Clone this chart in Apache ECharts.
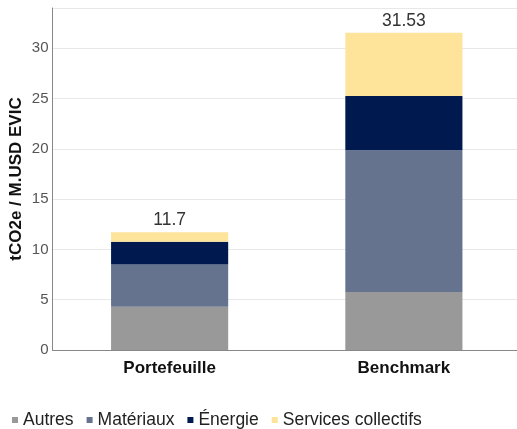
<!DOCTYPE html>
<html><head><meta charset="utf-8">
<script src="https://cdn.jsdelivr.net/npm/echarts@6/dist/echarts.min.js"></script>
<style>html,body{margin:0;padding:0;background:#fff}#c{width:517px;height:429px}</style>
</head><body><div id="c"></div>
<script>
const categories = ['Portefeuille', 'Benchmark'];
const autres = [4.29, 5.77];
const materiaux = [4.22, 14.10];
const energie = [2.25, 5.38];
const services = [0.94, 6.28];
const totals = [11.7, 31.53];
const seriesNames = ['Autres', 'Matériaux', 'Énergie', 'Services collectifs'];
const colors = ['#999999', '#65738f', '#001a4f', '#fee39b'];
const font = 'Liberation Sans';

const dataSets = [autres, materiaux, energie, services];
const series = dataSets.map((d, i) => ({
  name: seriesNames[i], type: 'bar', stack: 'total', data: d, barWidth: '50%',
  itemStyle: { color: colors[i] },
  label: i === 3 ? {
    show: true, position: 'top', distance: 3,
    formatter: p => String(totals[p.dataIndex]),
    fontFamily: font, fontSize: 17.5, color: '#333'
  } : { show: false }
}));

const chart = echarts.init(document.getElementById('c'));
chart.setOption({
  animation: false,
  color: colors,
  grid: { left: 52.5, right: -4, top: 8, bottom: 79, containLabel: false, outerBoundsMode: 'none' },
  legend: {
    data: seriesNames, left: 7, top: 406, icon: 'rect', itemWidth: 6, itemHeight: 6,
    itemGap: 13, textStyle: { fontFamily: font, fontSize: 17.5, color: '#222' }
  },
  xAxis: {
    type: 'category', data: categories,
    axisLine: { lineStyle: { color: '#888', width: 1 } },
    axisTick: { show: false },
    axisLabel: { fontFamily: font, fontSize: 17, fontWeight: 'bold', color: '#111', margin: 10 }
  },
  yAxis: {
    type: 'value', min: 0, max: 34, interval: 5,
    name: 'tCO2e / M.USD EVIC', nameLocation: 'middle', nameGap: 28, nameMoveOverlap: false,
    nameTextStyle: { fontFamily: font, fontSize: 17, fontWeight: 'bold', color: '#111' },
    axisLine: { show: true, lineStyle: { color: '#888' } },
    axisTick: { show: false },
    axisLabel: { fontFamily: font, fontSize: 15, color: '#555', margin: 4,
      formatter: v => (v % 5 === 0 ? String(v) : '') },
    splitLine: { lineStyle: { color: '#e8e8e8' } }
  },
  series
});
</script></body></html>
